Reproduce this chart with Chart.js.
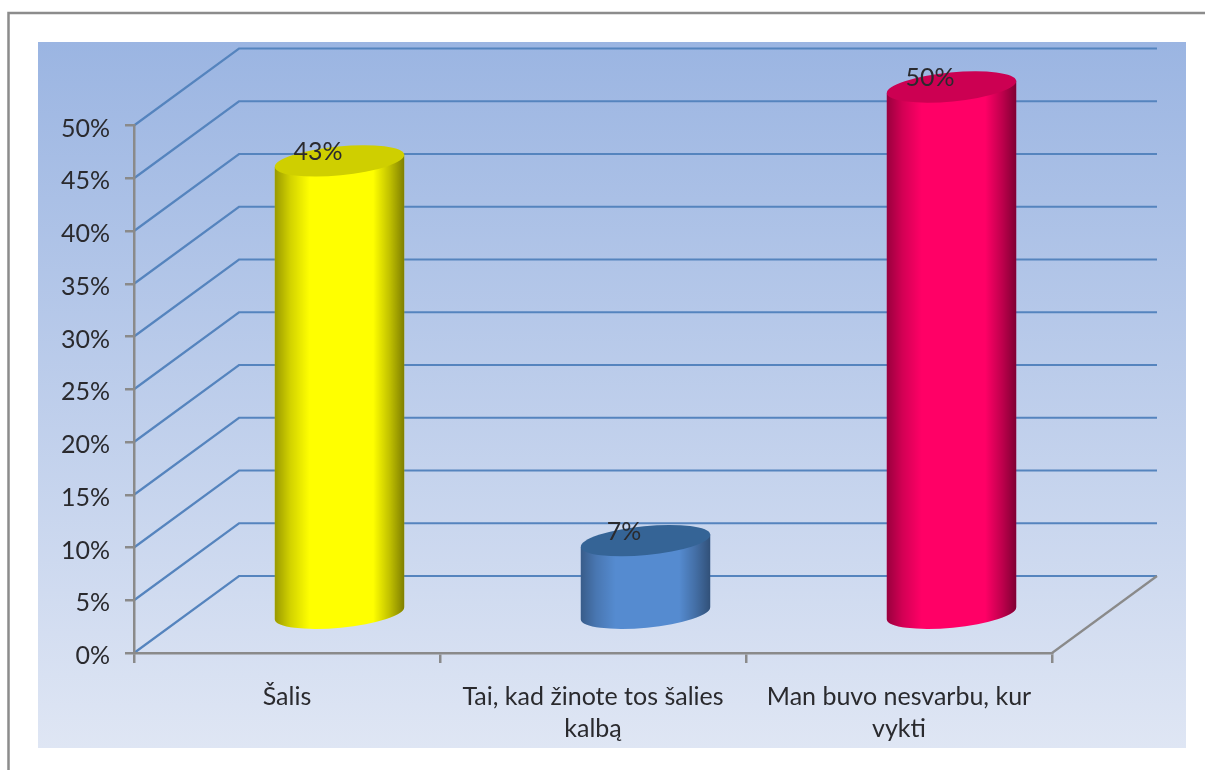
<!DOCTYPE html>
<html>
<head>
<meta charset="utf-8">
<style>
  html, body { margin: 0; padding: 0; background: #fff; overflow: hidden; }
  canvas { display: block; }
</style>
<script src="https://cdn.jsdelivr.net/npm/chart.js@4/dist/chart.umd.min.js"></script>
</head>
<body>
<canvas id="reasons" width="1205" height="770"></canvas>
<script>
const categories = [
  'Šalis',
  ['Tai, kad žinote tos šalies', 'kalbą'],
  ['Man buvo nesvarbu, kur', 'vykti']
];
const percents = [43, 7, 50];
const bodyColors = ['#ffff00', '#558bd0', '#ff0066'];
const capColors = ['#cfcf00', '#356496', '#cc0052'];
const edgeShade = [0.5, 0.42, 0.5];

const FONT = 'Lato, "Noto Sans", sans-serif';
const TEXT = '#2a2a2e';
const AXIS = '#8a8a8a';
const WALL = '#5584be';
// how far the back wall sits from the front plane
const DEPTH_X = 105;
const DEPTH_Y = 77;

function drawWalls(chart) {
  const { ctx } = chart;
  const x = chart.scales.x, y = chart.scales.y;
  const front = x.left, back = x.left + DEPTH_X;

  ctx.save();
  // page frame
  ctx.strokeStyle = '#8c8c8c';
  ctx.lineWidth = 2.5;
  ctx.beginPath();
  ctx.moveTo(8.5, 770);
  ctx.lineTo(8.5, 13);
  ctx.lineTo(1205, 13);
  ctx.stroke();

  // panel behind the plot
  const fill = ctx.createLinearGradient(0, 42, 0, 748);
  fill.addColorStop(0, '#9bb5e2');
  fill.addColorStop(1, '#dfe6f4');
  ctx.fillStyle = fill;
  ctx.fillRect(38, 42, 1148, 706);

  // lines on the left and back walls
  ctx.strokeStyle = WALL;
  ctx.lineWidth = 2.2;
  y.ticks.forEach(t => {
    const py = y.getPixelForValue(t.value);
    ctx.beginPath();
    ctx.moveTo(front, py);
    ctx.lineTo(back, py - DEPTH_Y);
    ctx.lineTo(x.right + DEPTH_X, py - DEPTH_Y);
    ctx.stroke();
  });

  // right edge of the floor
  ctx.strokeStyle = AXIS;
  ctx.beginPath();
  ctx.moveTo(x.right, y.bottom);
  ctx.lineTo(x.right + DEPTH_X, y.bottom - DEPTH_Y);
  ctx.stroke();
  ctx.restore();
}

function drawCylinder(ctx, bar, i) {
  const cx = bar.x + DEPTH_X / 2;
  const top = bar.y - DEPTH_Y / 2;
  const base = bar.base - DEPTH_Y / 2;
  const a = bar.width / 2 + 0.5, b = 14.5, tilt = -5.5 * Math.PI / 180;
  const dx = a * Math.cos(tilt), dy = a * Math.sin(tilt);

  const sidePath = () => {
    ctx.beginPath();
    ctx.moveTo(cx - dx, top - dy);
    ctx.lineTo(cx - dx, base - dy);
    ctx.ellipse(cx, base, a, b, tilt, Math.PI, 0, true);
    ctx.lineTo(cx + dx, top + dy);
    ctx.closePath();
  };

  ctx.fillStyle = bodyColors[i];
  sidePath();
  ctx.fill();

  // darker towards both edges, a bit more on the right
  const s = edgeShade[i];
  const shade = ctx.createLinearGradient(cx - dx, 0, cx + dx, 0);
  shade.addColorStop(0, `rgba(0,0,0,${s * 0.8})`);
  shade.addColorStop(0.12, `rgba(0,0,0,${s * 0.35})`);
  shade.addColorStop(0.27, 'rgba(0,0,0,0)');
  shade.addColorStop(0.76, 'rgba(0,0,0,0)');
  shade.addColorStop(0.89, `rgba(0,0,0,${s * 0.5})`);
  shade.addColorStop(1, `rgba(0,0,0,${s})`);
  ctx.fillStyle = shade;
  sidePath();
  ctx.fill();

  ctx.fillStyle = capColors[i];
  ctx.beginPath();
  ctx.ellipse(cx, top, a, b, tilt, 0, Math.PI * 2);
  ctx.fill();

  ctx.fillStyle = TEXT;
  ctx.font = '25px ' + FONT;
  ctx.textAlign = 'center';
  ctx.textBaseline = 'middle';
  ctx.fillText(percents[i] + '%', bar.x + 31, top - 9);
}

const cylinders = {
  id: 'cylinders',
  beforeDraw: drawWalls,
  // replaces the flat bars
  beforeDatasetDraw(chart, args) {
    args.meta.data.forEach((bar, i) => drawCylinder(chart.ctx, bar, i));
    return false;
  }
};

new Chart(document.getElementById('reasons'), {
  type: 'bar',
  data: {
    labels: categories,
    datasets: [{
      data: percents,
      backgroundColor: bodyColors,
      barPercentage: 129 / 306,
      categoryPercentage: 1
    }]
  },
  plugins: [cylinders],
  options: {
    responsive: false,
    animation: false,
    events: [],
    layout: { padding: { top: 125.5, right: 153 } },
    plugins: { legend: { display: false }, tooltip: { enabled: false } },
    scales: {
      x: {
        afterFit(s) { s.height = 117; },
        border: { color: AXIS, width: 2.5 },
        grid: { color: AXIS, lineWidth: 2.5, tickLength: 10, drawOnChartArea: false },
        ticks: {
          color: TEXT,
          padding: 18,
          maxRotation: 0,
          autoSkip: false,
          font: { family: FONT, size: 25, lineHeight: 1.28 }
        }
      },
      y: {
        min: 0,
        max: 50,
        afterFit(s) { s.width = 134; },
        border: { color: AXIS, width: 2.5 },
        grid: { color: AXIS, lineWidth: 2.5, tickLength: 9, drawOnChartArea: false },
        ticks: {
          stepSize: 5,
          color: TEXT,
          padding: 15,
          // the short blank first line sits the text a little below its tick
          font: { family: FONT, size: 25, lineHeight: '6px' },
          callback: v => ['', v + '%']
        }
      }
    }
  }
});
</script>
</body>
</html>
